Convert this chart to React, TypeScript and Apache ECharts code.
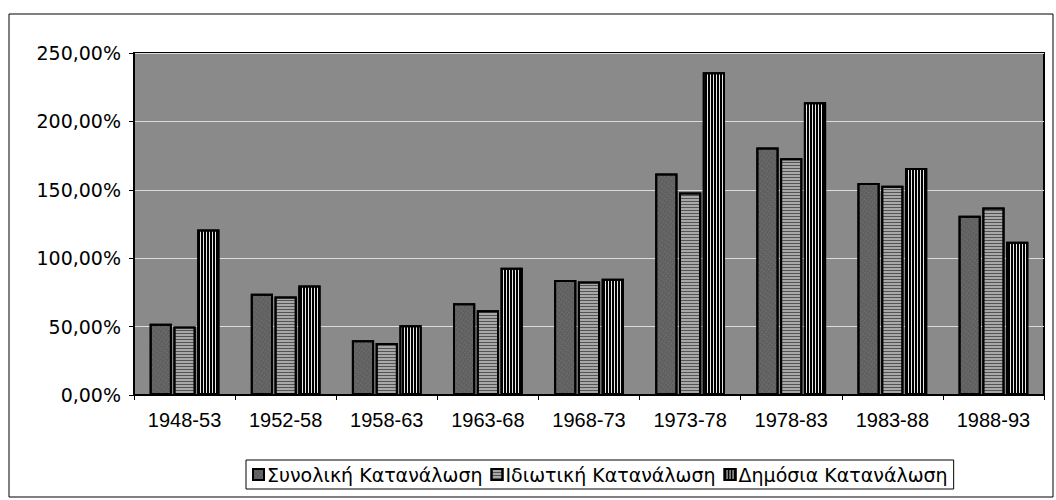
import React, { useEffect, useRef } from "react";
import * as echarts from "echarts";

const categories = ["1948-53", "1952-58", "1958-63", "1963-68", "1968-73", "1973-78", "1978-83", "1983-88", "1988-93"];
const seriesNames = ["Συνολική Κατανάλωση", "Ιδιωτική Κατανάλωση", "Δημόσια Κατανάλωση"];
const totalValues = [52, 74, 40, 67, 84, 162, 181, 155, 131];
const privateValues = [50, 72, 38, 62, 83, 148, 173, 153, 137];
const publicValues = [121, 80, 51, 93, 85, 236, 214, 166, 112];
const yTicks = [0, 50, 100, 150, 200, 250];

const FONT = "'Liberation Sans', Arial, sans-serif";
const WIDE = "'DejaVu Sans', 'Liberation Sans', sans-serif";

export default function App() {
  const ref = useRef<HTMLDivElement>(null);
  useEffect(() => {
    if (!ref.current) return;
    const chart = echarts.init(ref.current, undefined, { renderer: "svg" });
    const fmt = (v: number) => v.toFixed(2).replace(".", ",") + "%";
    const option: any = {
      animation: false,
      backgroundColor: "#ffffff",
      textStyle: { fontFamily: FONT },
      graphic: [
        {
          type: "rect",
          shape: { x: 9, y: 14, width: 1044, height: 483 },
          style: { fill: "none", stroke: "#000", lineWidth: 1 },
          silent: true,
          z: -10,
        },
      ],
      grid: {
        left: 134,
        right: 12,
        top: 53,
        bottom: 105,
        show: true,
        backgroundColor: "#8a8a8a",
        borderColor: "#000",
        borderWidth: 2,
      },
      legend: {
        data: seriesNames,
        left: 246,
        top: 460,
        orient: "horizontal",
        icon: "rect",
        itemWidth: 11,
        itemHeight: 11,
        itemGap: 8,
        padding: [5, 6, 5, 6],
        borderColor: "#000",
        borderWidth: 1,
        borderRadius: 0,
        backgroundColor: "#fff",
        textStyle: { fontFamily: WIDE, fontSize: 19, color: "#000", padding: [0, 0, 0, -2] },
      },
      xAxis: {
        type: "category",
        data: categories,
        axisLine: { show: true, lineStyle: { color: "#000", width: 2 } },
        axisTick: { show: true, length: 5, lineStyle: { color: "#000", width: 1 } },
        axisLabel: { fontFamily: FONT, fontSize: 20, color: "#000", margin: 15 },
        splitLine: { show: false },
      },
      yAxis: {
        type: "value",
        min: yTicks[0],
        max: yTicks[yTicks.length - 1],
        interval: 50,
        axisLine: { show: true, lineStyle: { color: "#000", width: 2 } },
        axisTick: { show: true, length: 5, lineStyle: { color: "#000", width: 1 } },
        axisLabel: { fontFamily: WIDE, fontSize: 19, color: "#000", margin: 13, formatter: fmt },
        splitLine: { show: true, lineStyle: { color: "#dcdcdc", width: 1 } },
      },
      series: [
        {
          name: seriesNames[0],
          type: "bar",
          data: totalValues,
          barCategoryGap: "31%",
          barGap: "7%",
          itemStyle: {
            color: "#5e5e5e",
            borderColor: "#000",
            borderWidth: 2,
            decal: {
              symbol: "rect",
              symbolSize: 0.7,
              dashArrayX: [[1, 2], [2, 1]],
              dashArrayY: [1, 1],
              rotation: 0.6,
              color: "rgba(255,255,255,0.35)",
            },
          },
        },
        {
          name: seriesNames[1],
          type: "bar",
          data: privateValues,
          itemStyle: {
            color: "#a8a8a8",
            borderColor: "#000",
            borderWidth: 2,
            decal: {
              symbol: "rect",
              symbolSize: 1,
              dashArrayX: [4, 0],
              dashArrayY: [1, 2],
              color: "rgba(0,0,0,0.5)",
            },
          },
        },
        {
          name: seriesNames[2],
          type: "bar",
          data: publicValues,
          itemStyle: {
            color: "#e8e8e8",
            borderColor: "#000",
            borderWidth: 2,
            decal: {
              symbol: "rect",
              symbolSize: 1,
              dashArrayX: [2, 1],
              dashArrayY: [4, 0],
              color: "#000",
            },
          },
        },
      ],
    };
    chart.setOption(option);
    return () => chart.dispose();
  }, []);
  return (
    <div
      ref={ref}
      style={{ position: "absolute", left: 0, top: 0, width: 1056, height: 500 }}
    />
  );
}
